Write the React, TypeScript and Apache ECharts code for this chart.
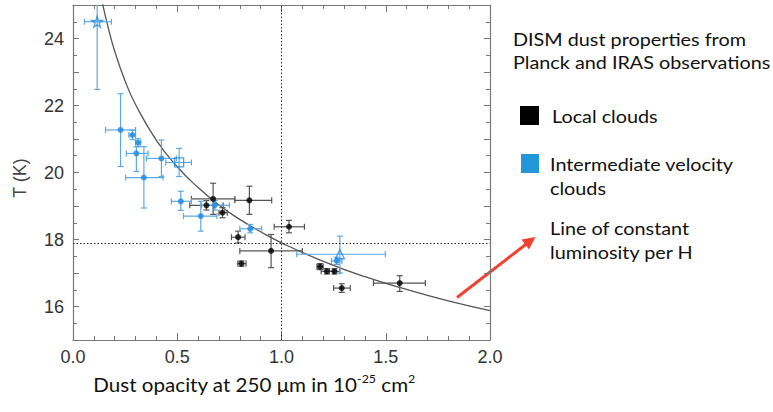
import React, { useEffect, useRef } from "react";
import * as echarts from "echarts";

// Axis tick labels
const xTickValues = [0, 0.5, 1.0, 1.5, 2.0];
const yTickValues = [16, 18, 20, 22, 24];

// Local clouds: [tau, T, tauLow, tauHigh, TLow, THigh]
const localClouds: number[][] = [
  [0.640, 19.02, 0.56, 0.72, 18.88, 19.16],
  [0.672, 19.21, 0.568, 0.776, 18.75, 19.68],
  [0.717, 18.80, 0.70, 0.74, 18.65, 18.95],
  [0.846, 19.17, 0.776, 0.953, 18.75, 19.59],
  [0.792, 18.07, 0.76, 0.825, 17.9, 18.25],
  [0.808, 17.28, 0.79, 0.83, 17.2, 17.36],
  [0.950, 17.66, 0.80, 1.10, 17.16, 18.15],
  [1.036, 18.38, 0.965, 1.11, 18.20, 18.57],
  [1.185, 17.19, 1.17, 1.20, 17.1, 17.28],
  [1.217, 17.05, 1.19, 1.25, 16.97, 17.13],
  [1.254, 17.05, 1.23, 1.28, 16.97, 17.13],
  [1.289, 16.55, 1.25, 1.33, 16.42, 16.68],
  [1.567, 16.70, 1.441, 1.69, 16.45, 16.92],
];

// Intermediate velocity clouds: [tau, T, tauLow, tauHigh, TLow, THigh]
const ivcClouds: number[][] = [
  [0.116, 24.50, 0.055, 0.184, 22.48, 26.5],
  [0.228, 21.27, 0.156, 0.300, 20.18, 22.35],
  [0.285, 21.12, 0.268, 0.300, 20.98, 21.26],
  [0.312, 20.89, 0.300, 0.325, 20.77, 21.01],
  [0.304, 20.57, 0.256, 0.360, 20.03, 20.77],
  [0.424, 20.42, 0.352, 0.496, 19.88, 20.97],
  [0.509, 20.30, 0.445, 0.568, 19.88, 20.72],
  [0.340, 19.85, 0.252, 0.432, 18.94, 20.77],
  [0.517, 19.14, 0.472, 0.568, 18.87, 19.44],
  [0.613, 18.70, 0.53, 0.69, 18.25, 19.14],
  [0.680, 19.02, 0.616, 0.75, 18.88, 19.16],
  [0.850, 18.32, 0.80, 0.905, 18.2, 18.45],
  [1.280, 17.56, 1.073, 1.498, 17.0, 18.10],
  [1.265, 17.36, 1.24, 1.29, 17.25, 17.47],
];
// marker kind per IVC point
const ivcMarkers = ["star", "dot", "dot", "dot", "dot", "dot", "square", "dot", "dot", "dot", "dot", "dot", "triangle", "dot"];

// Line of constant luminosity per H
const curveTau = [0.14, 0.16, 0.2, 0.25, 0.3, 0.4, 0.5, 0.6, 0.7, 0.8, 0.9, 1.0, 1.2, 1.4, 1.6, 1.8, 2.0];
const curveT = [25.1, 24.55, 23.62, 22.73, 22.03, 20.96, 20.17, 19.55, 19.03, 18.6, 18.23, 17.9, 17.35, 16.89, 16.51, 16.17, 15.88];

// Dotted reference lines
const refTau = 1.0;
const refT = 17.9;

const BLUE = "#2188e0";
const BLUE_BAR = "#5aa9e6";
const BLACK = "#000000";
const BLACK_BAR = "#555555";
const STAR = "path://M50,0 L61,35 L98,35 L68,57 L79,91 L50,70 L21,91 L32,57 L2,35 L39,35 Z";

function errorBarSeries(data: number[][], color: string) {
  return {
    type: "custom",
    clip: true,
    silent: true,
    z: 2,
    data,
    encode: { x: 0, y: 1 },
    renderItem: (params: any, api: any) => {
      const x = api.value(0);
      const y = api.value(1);
      const pL = api.coord([api.value(2), y]);
      const pR = api.coord([api.value(3), y]);
      const pB = api.coord([x, api.value(4)]);
      const pT = api.coord([x, api.value(5)]);
      const c = 3;
      const style = { stroke: color, lineWidth: 1.2 };
      const ln = (x1: number, y1: number, x2: number, y2: number) => ({ type: "line", shape: { x1, y1, x2, y2 }, style });
      return {
        type: "group",
        children: [
          ln(pL[0], pL[1], pR[0], pR[1]),
          ln(pL[0], pL[1] - c, pL[0], pL[1] + c),
          ln(pR[0], pR[1] - c, pR[0], pR[1] + c),
          ln(pB[0], pB[1], pT[0], pT[1]),
          ln(pB[0] - c, pB[1], pB[0] + c, pB[1]),
          ln(pT[0] - c, pT[1], pT[0] + c, pT[1]),
        ],
      };
    },
  };
}

export default function App() {
  const ref = useRef<HTMLDivElement>(null);
  useEffect(() => {
    if (!ref.current) return;
    const chart = echarts.init(ref.current, null, { renderer: "svg" });
    const tickFont = { fontFamily: "Liberation Sans", fontSize: 18, color: "#333" };
    const AX = "#777";

    const ivcData = ivcClouds.map((p, i) => {
      const kind = ivcMarkers[i];
      if (kind === "dot") return { value: [p[0], p[1]] };
      const symbol = kind === "star" ? STAR : kind === "square" ? "rect" : "triangle";
      return {
        value: [p[0], p[1]],
        symbol,
        symbolSize: kind === "star" ? 11 : 9,
        itemStyle: { color: "rgba(255,255,255,0)", borderColor: BLUE, borderWidth: 1.3 },
      };
    });

    const legendText = (text: string, x: number, y: number) => ({
      type: "text", x, y, scaleX: 1.1,
      style: { text, font: "18px Lato", fill: "#111", verticalAlign: "middle" },
    });

    const option: any = {
      animation: false,
      backgroundColor: "#ffffff",
      grid: { left: 73, top: 5, width: 417, height: 335, show: false },
      xAxis: [
        {
          type: "value", min: 0, max: 2, interval: 0.5, position: "bottom",
          axisLine: { show: true, onZero: false, lineStyle: { color: AX, width: 1.2 } },
          axisTick: { show: true, inside: true, length: 7, lineStyle: { color: AX } },
          minorTick: { show: true, splitNumber: 5, length: 4, lineStyle: { color: AX } },
          axisLabel: { ...tickFont, margin: 8, formatter: (v: number) => (xTickValues.includes(v) ? v.toFixed(1) : "") },
          splitLine: { show: false },
        },
        {
          type: "value", min: 0, max: 2, interval: 0.5, position: "top",
          axisLine: { show: true, onZero: false, lineStyle: { color: AX, width: 1.2 } },
          axisTick: { show: true, inside: true, length: 7, lineStyle: { color: AX } },
          minorTick: { show: true, splitNumber: 5, length: 4, lineStyle: { color: AX } },
          axisLabel: { show: false },
          splitLine: { show: false },
        },
      ],
      yAxis: [
        {
          type: "value", min: 15, max: 25, interval: 1, position: "left",
          axisLine: { show: true, onZero: false, lineStyle: { color: AX, width: 1.2 } },
          axisTick: { show: true, inside: true, length: 6, lineStyle: { color: AX } },
          minorTick: { show: true, splitNumber: 2, length: 4, lineStyle: { color: AX } },
          axisLabel: { ...tickFont, margin: 9, formatter: (v: number) => (yTickValues.includes(v) ? String(v) : "") },
          splitLine: { show: false },
        },
        {
          type: "value", min: 15, max: 25, interval: 1, position: "right",
          axisLine: { show: true, onZero: false, lineStyle: { color: AX, width: 1.2 } },
          axisTick: { show: true, inside: true, length: 6, lineStyle: { color: AX } },
          minorTick: { show: true, splitNumber: 2, length: 4, lineStyle: { color: AX } },
          axisLabel: { show: false },
          splitLine: { show: false },
        },
      ],
      series: [
        {
          type: "line",
          data: curveTau.map((t, i) => [t, curveT[i]]),
          smooth: true,
          showSymbol: false,
          clip: true,
          silent: true,
          lineStyle: { color: "#555", width: 1.3 },
          z: 1,
          markLine: {
            silent: true,
            symbol: "none",
            label: { show: false },
            lineStyle: { color: "#222", type: [1.5, 2], width: 1 },
            data: [{ xAxis: refTau }, { yAxis: refT }],
          },
        },
        errorBarSeries(localClouds, BLACK_BAR),
        errorBarSeries(ivcClouds, BLUE_BAR),
        {
          type: "scatter",
          data: localClouds.map((p) => [p[0], p[1]]),
          symbol: "circle",
          symbolSize: 6,
          itemStyle: { color: BLACK },
          z: 4,
        },
        {
          type: "scatter",
          data: ivcData,
          symbol: "circle",
          symbolSize: 6,
          itemStyle: { color: BLUE },
          z: 5,
        },
      ],
      graphic: [
        {
          type: "text", x: 20, y: 178, rotation: Math.PI / 2,
          style: { text: "T (K)", font: "18px 'Liberation Sans'", fill: "#444", align: "center", verticalAlign: "middle" },
        },
        {
          type: "text", x: 262, y: 384, scaleX: 1.03, originX: 262,
          style: {
            text: "Dust opacity at 250 μm in 10{sup|-25} cm{sup|2}",
            font: "20px Lato", fill: "#111", align: "center", verticalAlign: "middle",
            rich: { sup: { fontSize: 12, fontFamily: "Lato", verticalAlign: "top", padding: [0, 0, 10, 0], fill: "#111" } },
          },
        },
        legendText("DISM dust properties from", 513, 39),
        legendText("Planck and IRAS observations", 513, 62),
        { type: "rect", shape: { x: 520, y: 106, width: 19, height: 19 }, style: { fill: "#000" } },
        legendText("Local clouds", 552, 116),
        { type: "rect", shape: { x: 521, y: 154, width: 18, height: 19 }, style: { fill: "#2196d8" } },
        legendText("Intermediate velocity", 550, 164),
        legendText("clouds", 550, 188),
        legendText("Line of constant", 550, 228),
        legendText("luminosity per H", 550, 252),
        { type: "line", shape: { x1: 457, y1: 297.5, x2: 527, y2: 243.5 }, style: { stroke: "#f0432f", lineWidth: 3 } },
        { type: "polygon", shape: { points: [[535.5, 237], [521.5, 239.5], [529, 249.5]] }, style: { fill: "#f0432f" } },
      ],
    };
    chart.setOption(option);
    return () => chart.dispose();
  }, []);
  return <div ref={ref} style={{ position: "fixed", left: 0, top: 0, width: 773, height: 412, background: "#fff" }} />;
}
